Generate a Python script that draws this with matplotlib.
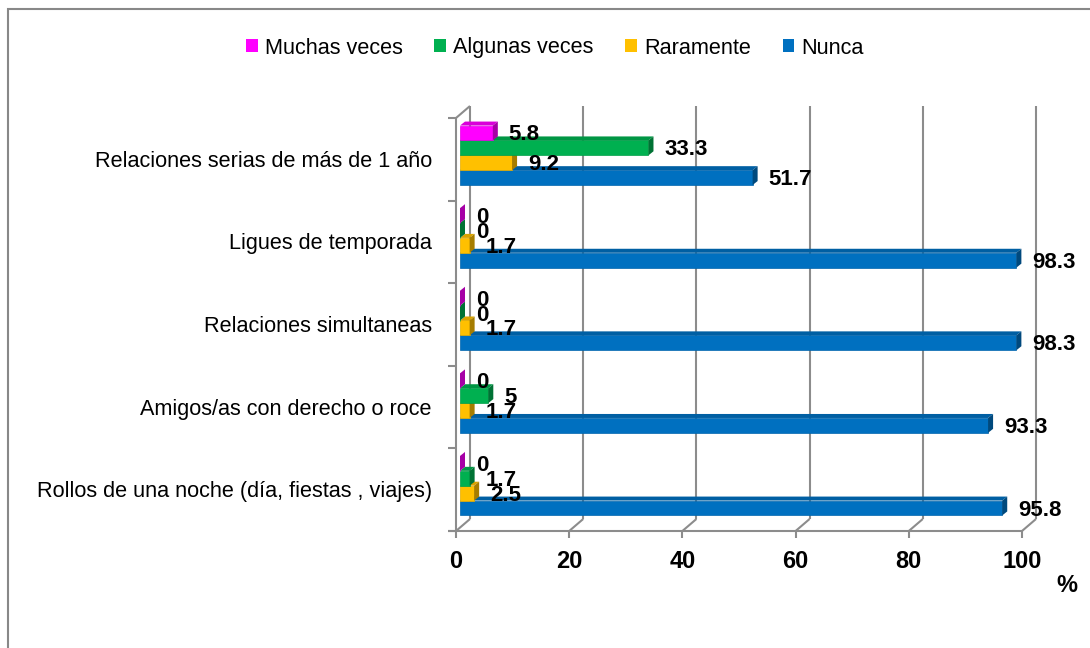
"""
Barras horizontales agrupadas con efecto 3D (estilo Excel)
Frecuencia de tipos de relaciones, en %
"""

import numpy as np
import matplotlib
matplotlib.use('Agg')
import matplotlib.pyplot as plt
from matplotlib.patches import Polygon, Patch, Rectangle
from matplotlib.colors import to_rgb

plt.rcParams['font.family'] = ['Liberation Sans', 'DejaVu Sans']

# Datos
categorias = [
    'Relaciones serias de más de 1 año',
    'Ligues de temporada',
    'Relaciones simultaneas',
    'Amigos/as con derecho o roce',
    'Rollos de una noche (día, fiestas , viajes)',
]
series = ['Muchas veces', 'Algunas veces', 'Raramente', 'Nunca']
muchas = [5.8, 0, 0, 0, 0]
algunas = [33.3, 0, 0, 5, 1.7]
raramente = [9.2, 1.7, 1.7, 1.7, 2.5]
nunca = [51.7, 98.3, 98.3, 93.3, 95.8]
colores = ['#FF00FF', '#00B050', '#FFC000', '#0070C0']
ticks_x = [0, 20, 40, 60, 80, 100]

valores = [muchas, algunas, raramente, nunca]


def sombra(color, f):
    r, g, b = to_rgb(color)
    return (r * f, g * f, b * f)


def main():
    W, H = 1090, 648
    fig = plt.figure(figsize=(W / 100, H / 100), dpi=100)

    # plano frontal del grafico (pixeles)
    x0p, x1p, y0p, y1p = 456, 1022, 118, 531
    ax = fig.add_axes([x0p / W, 1 - y1p / H, (x1p - x0p) / W, (y1p - y0p) / H])
    ax.set_xlim(0, 100)
    ax.set_ylim(-0.5, 4.5)
    ax.axis('off')

    sx = 100 / (x1p - x0p)
    sy = 5 / (y1p - y0p)

    gris = '#8C8C8C'
    kw = dict(color=gris, lw=1.5, clip_on=False, zorder=1, solid_capstyle='butt')

    # pared del fondo y suelo
    dxw, dyw = 14 * sx, 12 * sy
    for t in ticks_x:
        ax.plot([t + dxw, t + dxw], [-0.5 + dyw, 4.5 + dyw], **kw)
        ax.plot([t, t + dxw], [-0.5, -0.5 + dyw], **kw)
        ax.plot([t, t], [-0.5, -0.5 - 7 * sy], **kw)
        ax.text(t, -0.5 - 31 * sy, str(t), ha='center', va='center',
                fontsize=17, fontweight='bold')
    ax.plot([-8 * sx, 100], [-0.5, -0.5], **kw)
    ax.plot([0, 0], [-0.5, 4.5], **kw)
    ax.plot([0, dxw], [4.5, 4.5 + dyw], **kw)
    for k in range(6):
        ax.plot([-8 * sx, 0], [-0.5 + k, -0.5 + k], **kw)
    ax.text((1067 - x0p) * sx, -0.5 - 54 * sy, '%', ha='center', va='center',
            fontsize=17, fontweight='bold')

    # barras
    bx, by = 4 * sx, 4 * sy
    dx, dy = 5 * sx, 4 * sy
    h = 0.18
    z = 2
    for i, cat in enumerate(categorias):
        pos = len(categorias) - 1 - i
        ax.text(-24 * sx, pos - 2 * sy, cat, ha='right', va='center', fontsize=15.6)
        for j in reversed(range(len(series))):
            v = valores[j][i]
            c = colores[j]
            yc = pos + 0.27 - j * h + by
            ax.barh(yc, v, left=bx, height=h, color=c, edgecolor=sombra(c, 0.9),
                    linewidth=0.5, zorder=z)
            top, bot = yc + h / 2, yc - h / 2
            ax.add_patch(Polygon([(bx, top), (bx + v, top), (bx + v + dx, top + dy),
                                  (bx + dx, top + dy)], closed=True,
                                 facecolor=sombra(c, 0.85), edgecolor='none', zorder=z))
            ax.add_patch(Polygon([(bx + v, bot), (bx + v, top), (bx + v + dx, top + dy),
                                  (bx + v + dx, bot + dy)], closed=True,
                                 facecolor=sombra(c, 0.65), edgecolor='none', zorder=z))
            ax.text(bx + v + 16 * sx, yc - 2 * sy, f'{v:g}', ha='left', va='center',
                    fontsize=16, fontweight='bold', zorder=20)
            z += 1

    # leyenda
    handles = [Patch(facecolor=c, edgecolor='none') for c in colores]
    fig.legend(handles, series, loc='center', bbox_to_anchor=(555 / W, 1 - 48 / H),
               ncol=4, frameon=False, fontsize=15.6, handlelength=0.55,
               handleheight=0.55, handletextpad=0.33, columnspacing=1.45)

    # marco exterior
    fig.patches.append(Rectangle((8 / W, -0.1), 1.2, (H - 9) / H + 0.1,
                                 transform=fig.transFigure, fill=False,
                                 edgecolor='#888888', lw=1.5))

    plt.savefig('out.png', dpi=100)
    plt.close()


if __name__ == "__main__":
    main()
